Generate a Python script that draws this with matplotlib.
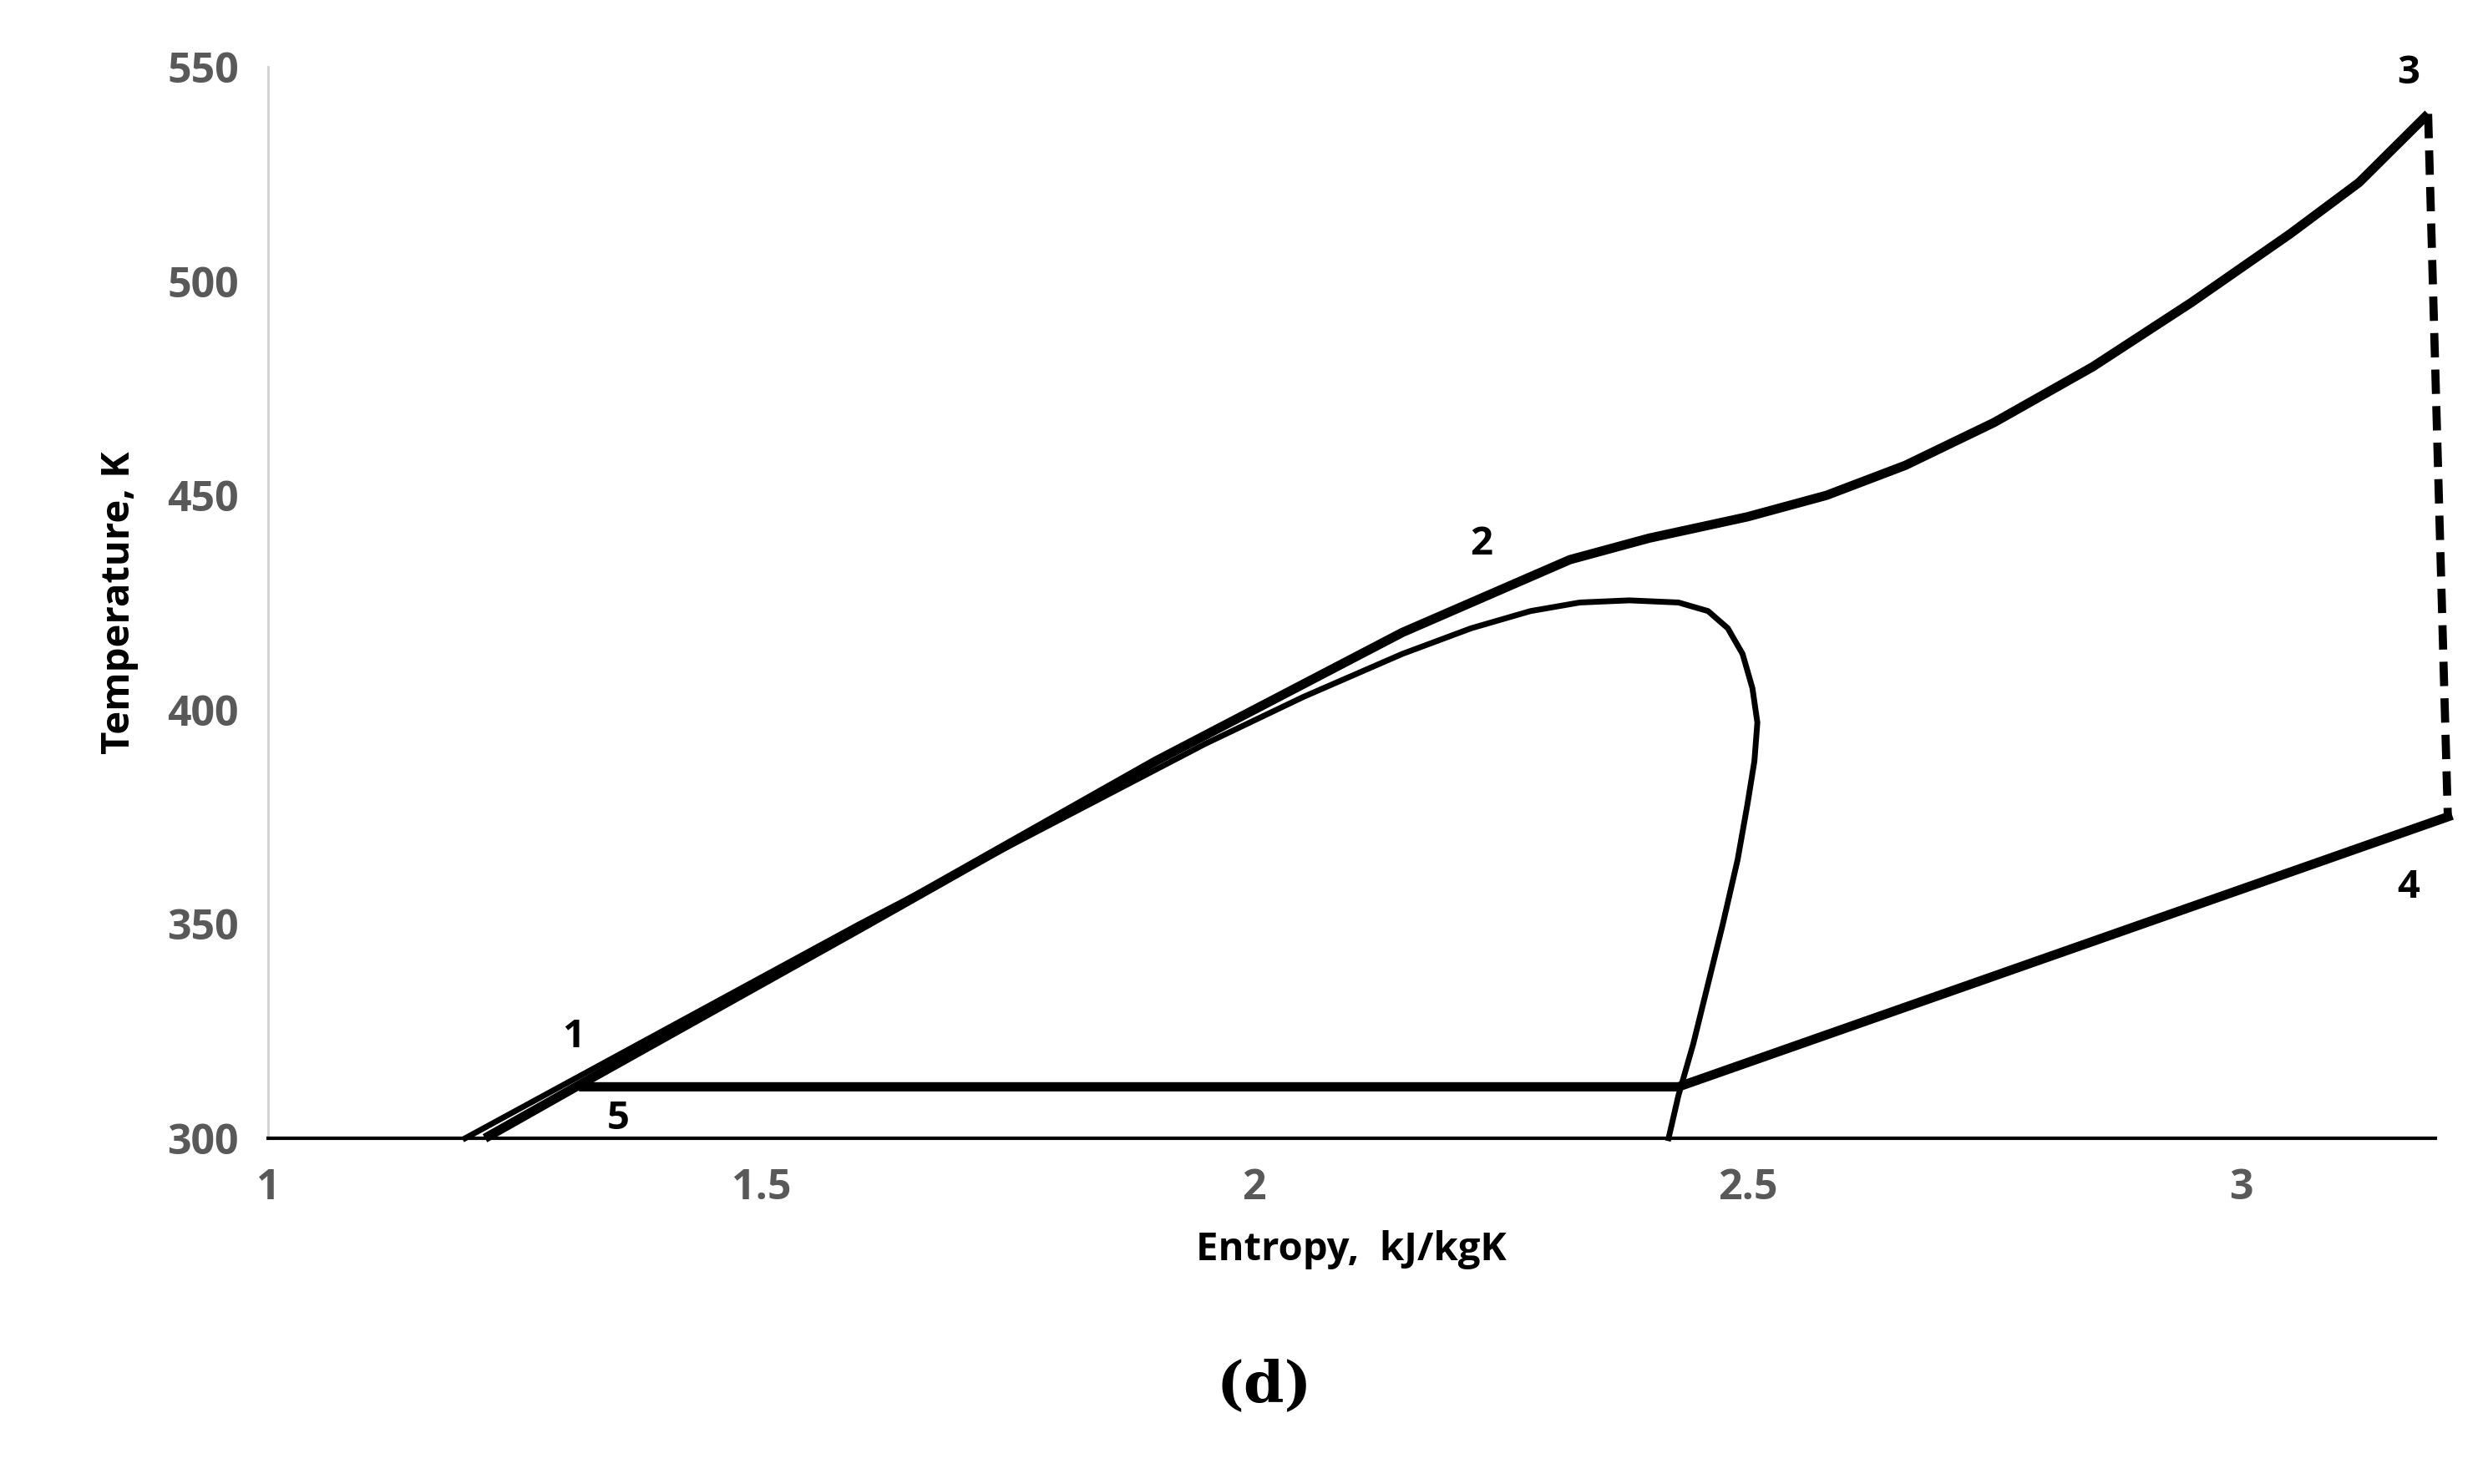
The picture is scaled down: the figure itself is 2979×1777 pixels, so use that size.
import numpy as np
import matplotlib.pyplot as plt

# saturation dome
dome_s = [1.20, 1.40, 1.60, 1.80, 1.95, 2.05, 2.15, 2.22, 2.28, 2.33, 2.38, 2.43, 2.46, 2.48, 2.495, 2.505,
          2.51, 2.507, 2.50, 2.49, 2.475, 2.46, 2.445, 2.43, 2.42]
dome_t = [300, 325, 350, 374, 392, 403, 413, 419, 423, 425, 425.5, 425, 423, 419, 413, 405,
          397, 388, 378, 365, 350, 336, 322, 310, 300]

# cycle: heating 5-1-2-3
heat_s = [1.22, 1.32, 1.60, 1.90, 2.05, 2.15, 2.25, 2.32, 2.40, 2.50, 2.58, 2.66, 2.75, 2.85, 2.95, 3.05, 3.12, 3.19]
heat_t = [300, 313, 349, 388, 406, 418, 428, 435, 440, 445, 450, 457, 467, 480, 495, 511, 523, 539]
# expansion 3-4 (dashed)
exp_s = [3.19, 3.21]
exp_t = [539, 375]
# cooling 4 -> condensation
cool_s = [3.21, 2.43, 1.32]
cool_t = [375, 312, 312]

labels = ['1', '2', '3', '4', '5']
lab_s = [1.31, 2.23, 3.17, 3.17, 1.355]
lab_t = [319, 434, 544, 354, 300]

plt.rcParams['font.family'] = ['Open Sans', 'DejaVu Sans']
fig = plt.figure(figsize=(29.79, 17.77), dpi=100)
ax = fig.add_axes([0.1077, 0.233, 0.871, 0.722])
ax.plot(dome_s, dome_t, color='black', lw=5, clip_on=False)
ax.plot(heat_s, heat_t, color='black', lw=8, solid_capstyle='butt', clip_on=False)
ax.plot(exp_s, exp_t, color='black', lw=7, ls=(0, (3, 1.5)), clip_on=False)
ax.plot(cool_s, cool_t, color='black', lw=8, clip_on=False)
for l, s, t in zip(labels, lab_s, lab_t):
    ax.text(s, t, l, fontsize=34, fontweight='bold', ha='center', va='bottom')

ax.set_xlim(1, 3.197)
ax.set_ylim(300, 550)
ax.set_xticks([1, 1.5, 2, 2.5, 3])
ax.set_xticklabels(['1', '1.5', '2', '2.5', '3'])
ax.set_yticks(range(300, 551, 50))
ax.tick_params(length=0, labelsize=36, labelcolor='#595959', pad=25)
for lab in ax.get_xticklabels() + ax.get_yticklabels():
    lab.set_fontweight('bold')
for sp in ['top', 'right']:
    ax.spines[sp].set_visible(False)
ax.spines['left'].set_color('#d0d0d0')
ax.spines['left'].set_linewidth(2)
ax.spines['bottom'].set_color('black')
ax.spines['bottom'].set_linewidth(3)
ax.set_xlabel('Entropy,  kJ/kgK', fontsize=34, fontweight='bold', labelpad=18)
ax.set_ylabel('Temperature, K', fontsize=34, fontweight='bold', labelpad=25)
fig.text(0.508, 0.055, '(d)', fontsize=50, fontweight='bold', family='DejaVu Serif', ha='center')
fig.savefig('out.png')
